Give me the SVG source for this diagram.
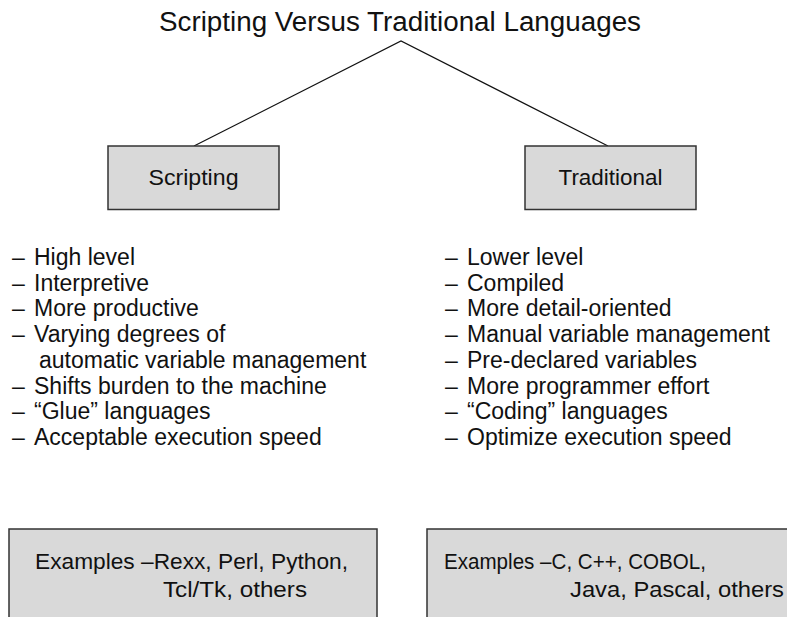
<svg xmlns="http://www.w3.org/2000/svg" width="787" height="617" viewBox="0 0 787 617">
<style>
.bg{fill:#ffffff}
.box{fill:#d9d9d9;stroke:#333333;stroke-width:1.5}
.cond{font-family:"Liberation Sans",Arial,sans-serif;fill:#111111}
.list{font-family:"Liberation Sans",Arial,sans-serif;font-size:23px;fill:#111111}
.conn{stroke:#111111;stroke-width:1.2;fill:none}
</style>
<rect class="bg" x="0" y="0" width="787" height="617"/>
<g id="title">
<text class="cond" x="400" y="31" font-size="27" text-anchor="middle" textLength="482" lengthAdjust="spacingAndGlyphs">Scripting Versus Traditional Languages</text>
</g>
<g id="connectors">
<polyline class="conn" points="194,146 401,41 608,146"/>
</g>
<g id="scripting">
<rect class="box" x="108" y="146" width="171" height="63.5"/>
<text class="cond" x="193.5" y="185" font-size="21.5" text-anchor="middle" textLength="90" lengthAdjust="spacingAndGlyphs">Scripting</text>
</g>
<g id="traditional">
<rect class="box" x="525" y="146" width="171" height="63.5"/>
<text class="cond" x="610.5" y="185" font-size="21.5" text-anchor="middle" textLength="104" lengthAdjust="spacingAndGlyphs">Traditional</text>
</g>
<g id="scripting-list" class="list">
<text x="12" y="265">–</text><text x="34" y="265">High level</text>
<text x="12" y="290.7">–</text><text x="34" y="290.7">Interpretive</text>
<text x="12" y="316.4">–</text><text x="34" y="316.4">More productive</text>
<text x="12" y="342.1">–</text><text x="34" y="342.1">Varying degrees of</text>
<text x="39" y="367.8">automatic variable management</text>
<text x="12" y="393.5">–</text><text x="34" y="393.5">Shifts burden to the machine</text>
<text x="12" y="419.2">–</text><text x="34" y="419.2">“Glue” languages</text>
<text x="12" y="444.9">–</text><text x="34" y="444.9">Acceptable execution speed</text>
</g>
<g id="traditional-list" class="list">
<text x="445" y="265">–</text><text x="467" y="265">Lower level</text>
<text x="445" y="290.7">–</text><text x="467" y="290.7">Compiled</text>
<text x="445" y="316.4">–</text><text x="467" y="316.4">More detail-oriented</text>
<text x="445" y="342.1">–</text><text x="467" y="342.1">Manual variable management</text>
<text x="445" y="367.8">–</text><text x="467" y="367.8">Pre-declared variables</text>
<text x="445" y="393.5">–</text><text x="467" y="393.5">More programmer effort</text>
<text x="445" y="419.2">–</text><text x="467" y="419.2">“Coding” languages</text>
<text x="445" y="444.9">–</text><text x="467" y="444.9">Optimize execution speed</text>
</g>
<g id="scripting-examples">
<rect class="box" x="9" y="529" width="368" height="100"/>
<text class="cond" x="35" y="569" font-size="21.5" textLength="313" lengthAdjust="spacingAndGlyphs">Examples –Rexx, Perl, Python,</text>
<text class="cond" x="163" y="597" font-size="21.5" textLength="144" lengthAdjust="spacingAndGlyphs">Tcl/Tk, others</text>
</g>
<g id="traditional-examples">
<rect class="box" x="427" y="529" width="380" height="100"/>
<text class="cond" x="444" y="569" font-size="21.5" textLength="262" lengthAdjust="spacingAndGlyphs">Examples –C, C++, COBOL,</text>
<text class="cond" x="570" y="597" font-size="21.5" textLength="214" lengthAdjust="spacingAndGlyphs">Java, Pascal, others</text>
</g>
</svg>
